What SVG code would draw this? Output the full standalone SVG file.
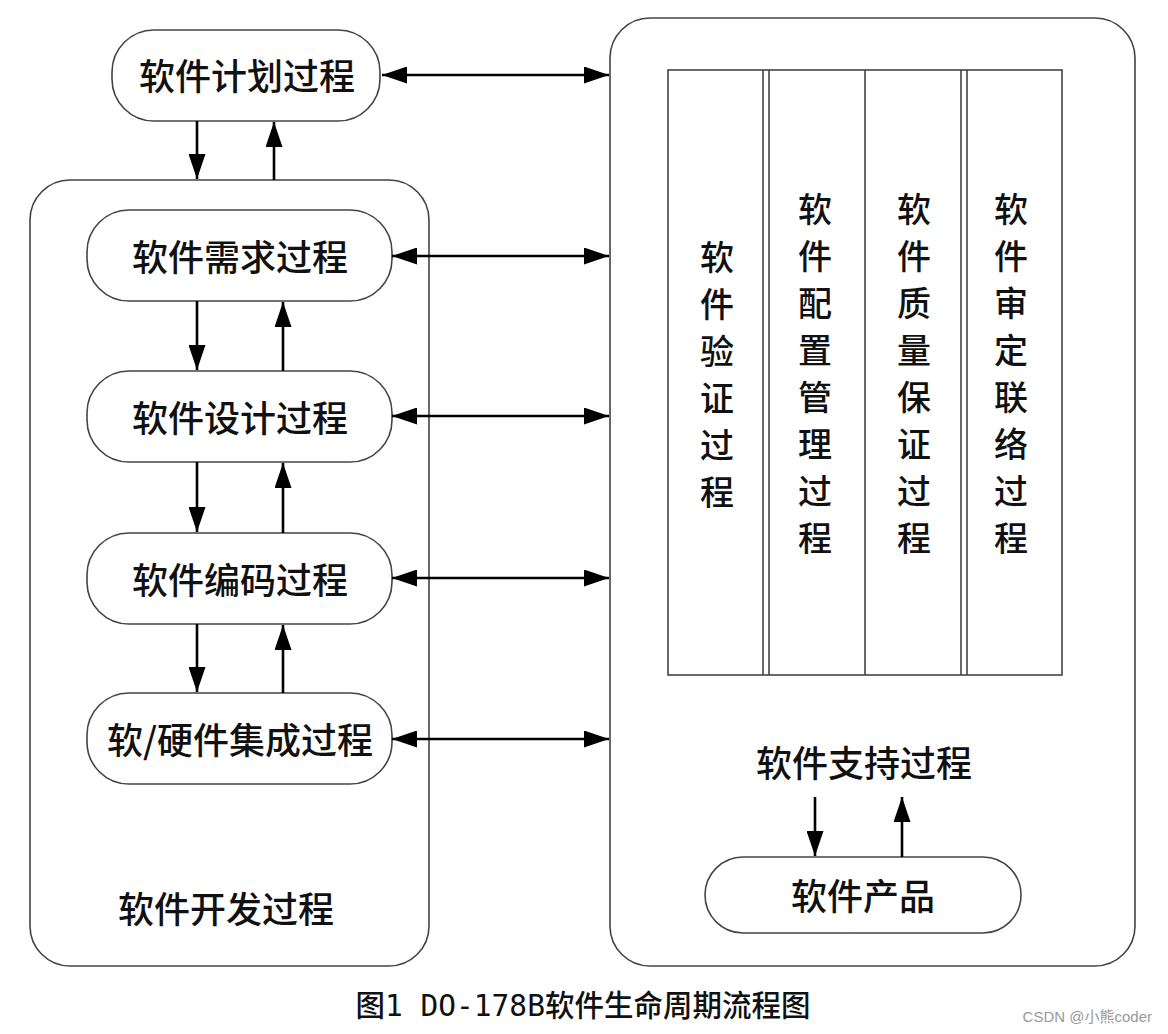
<svg xmlns="http://www.w3.org/2000/svg" width="1168" height="1034" viewBox="0 0 1168 1034">
<style>
.box{fill:#fff;stroke:#444;stroke-width:1.6}
.col{fill:none;stroke:#444;stroke-width:1.6}
.t{font-family:"Noto Sans CJK SC","Noto Sans",sans-serif;font-size:36px;font-weight:500;fill:#111;text-anchor:middle;dominant-baseline:central}
.v{font-family:"Noto Sans CJK SC","Noto Sans",sans-serif;font-size:34px;font-weight:500;fill:#111;text-anchor:middle;dominant-baseline:central}
.c{stroke:#000;stroke-width:2.6;fill:none}
</style>
<defs>
<marker id="a" viewBox="0 0 25 17" refX="25" refY="8.5" markerWidth="25" markerHeight="17" markerUnits="userSpaceOnUse" orient="auto-start-reverse">
<path d="M0,0 L25,8.5 L0,17 z" fill="#000"/>
</marker>
</defs>
<rect width="1168" height="1034" fill="#fff"/>

<g id="dev-process">
<rect class="box" x="30" y="180" width="399" height="786" rx="40"/>
<text class="t" x="226" y="907">软件开发过程</text>
</g>
<g id="support-process">
<rect class="box" x="610" y="18" width="525" height="948" rx="40"/>
<text class="t" x="864" y="761">软件支持过程</text>
</g>

<g id="plan">
<rect class="box" x="112" y="30" width="268" height="91" rx="42"/>
<text class="t" x="247" y="74">软件计划过程</text>
</g>
<g id="req">
<rect class="box" x="87" y="210" width="305" height="91" rx="42"/>
<text class="t" x="240" y="255">软件需求过程</text>
</g>
<g id="design">
<rect class="box" x="87" y="371" width="305" height="91" rx="42"/>
<text class="t" x="240" y="416">软件设计过程</text>
</g>
<g id="code">
<rect class="box" x="87" y="533" width="305" height="91" rx="42"/>
<text class="t" x="240" y="578">软件编码过程</text>
</g>
<g id="integration">
<rect class="box" x="87" y="693" width="305" height="91" rx="42"/>
<text class="t" x="240" y="738">软/硬件集成过程</text>
</g>
<g id="product">
<rect class="box" x="705" y="857" width="316" height="76" rx="38"/>
<text class="t" x="863" y="894">软件产品</text>
</g>

<g id="columns">
<rect class="col" x="668" y="70" width="394" height="605"/>
<line class="col" x1="763" y1="70" x2="763" y2="675"/>
<line class="col" x1="769" y1="70" x2="769" y2="675"/>
<line class="col" x1="865" y1="70" x2="865" y2="675"/>
<line class="col" x1="961" y1="70" x2="961" y2="675"/>
<line class="col" x1="967" y1="70" x2="967" y2="675"/>
</g>
<g id="verification">
<text class="v" x="717" y="255">软</text><text class="v" x="717" y="302">件</text><text class="v" x="717" y="349">验</text><text class="v" x="717" y="396">证</text><text class="v" x="717" y="443">过</text><text class="v" x="717" y="490">程</text>
</g>
<g id="config">
<text class="v" x="815" y="207">软</text><text class="v" x="815" y="254">件</text><text class="v" x="815" y="301">配</text><text class="v" x="815" y="348">置</text><text class="v" x="815" y="395">管</text><text class="v" x="815" y="442">理</text><text class="v" x="815" y="489">过</text><text class="v" x="815" y="536">程</text>
</g>
<g id="qa">
<text class="v" x="914" y="207">软</text><text class="v" x="914" y="254">件</text><text class="v" x="914" y="301">质</text><text class="v" x="914" y="348">量</text><text class="v" x="914" y="395">保</text><text class="v" x="914" y="442">证</text><text class="v" x="914" y="489">过</text><text class="v" x="914" y="536">程</text>
</g>
<g id="liaison">
<text class="v" x="1011" y="207">软</text><text class="v" x="1011" y="254">件</text><text class="v" x="1011" y="301">审</text><text class="v" x="1011" y="348">定</text><text class="v" x="1011" y="395">联</text><text class="v" x="1011" y="442">络</text><text class="v" x="1011" y="489">过</text><text class="v" x="1011" y="536">程</text>
</g>

<g id="connectors">
<line class="c" x1="382" y1="75" x2="609" y2="75" marker-start="url(#a)" marker-end="url(#a)"/>
<line class="c" x1="392" y1="256" x2="609" y2="256" marker-start="url(#a)" marker-end="url(#a)"/>
<line class="c" x1="392" y1="416" x2="609" y2="416" marker-start="url(#a)" marker-end="url(#a)"/>
<line class="c" x1="392" y1="578" x2="609" y2="578" marker-start="url(#a)" marker-end="url(#a)"/>
<line class="c" x1="392" y1="739" x2="609" y2="739" marker-start="url(#a)" marker-end="url(#a)"/>
<line class="c" x1="197" y1="121" x2="197" y2="179" marker-end="url(#a)"/>
<line class="c" x1="274" y1="180" x2="274" y2="122" marker-end="url(#a)"/>
<line class="c" x1="197" y1="301" x2="197" y2="370" marker-end="url(#a)"/>
<line class="c" x1="283" y1="371" x2="283" y2="302" marker-end="url(#a)"/>
<line class="c" x1="197" y1="462" x2="197" y2="532" marker-end="url(#a)"/>
<line class="c" x1="283" y1="533" x2="283" y2="463" marker-end="url(#a)"/>
<line class="c" x1="197" y1="624" x2="197" y2="692" marker-end="url(#a)"/>
<line class="c" x1="283" y1="693" x2="283" y2="625" marker-end="url(#a)"/>
<line class="c" x1="815" y1="797" x2="815" y2="856" marker-end="url(#a)"/>
<line class="c" x1="902" y1="857" x2="902" y2="797" marker-end="url(#a)"/>
</g>

<text x="583" y="1005" font-family="'DejaVu Sans Mono','Noto Sans CJK SC',monospace" font-size="30" font-weight="500" fill="#111" text-anchor="middle" dominant-baseline="central" textLength="455" lengthAdjust="spacingAndGlyphs">图1 DO-178B软件生命周期流程图</text>
<text x="1152" y="1016" font-family="'Liberation Sans','Noto Sans CJK SC',sans-serif" font-size="15" fill="#999" text-anchor="end" dominant-baseline="central">CSDN @小熊coder</text>
</svg>
